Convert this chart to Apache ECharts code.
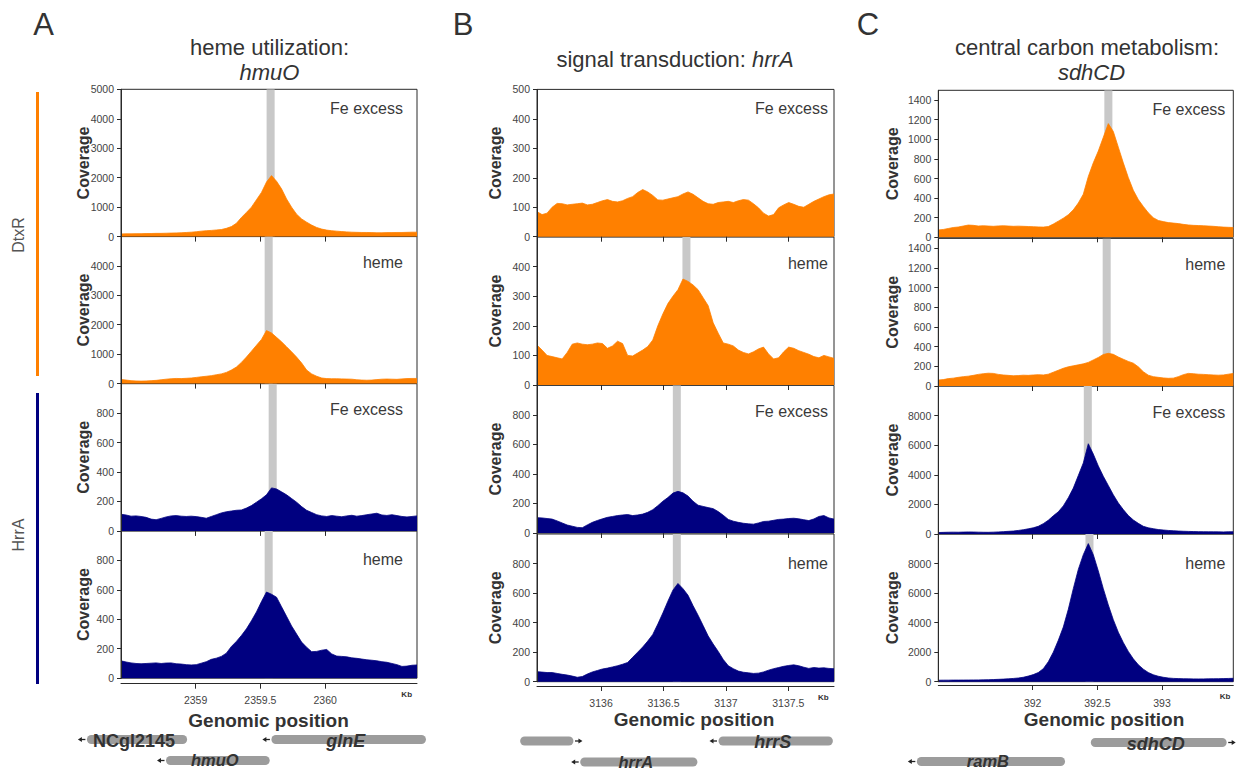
<!DOCTYPE html>
<html>
<head>
<meta charset="utf-8">
<title>DtxR / HrrA ChIP-seq coverage</title>
<script src="https://cdn.jsdelivr.net/npm/echarts@6/dist/echarts.min.js"></script>
<style>
html,body{margin:0;padding:0;background:#fff;}
#main{width:1238px;height:771px;}
</style>
</head>
<body>
<div id="main"></div>
<script>
// ---------- data ----------
// genomic window (kb) shown in each panel, and tick labels of the bottom axis
var rangeA = [2358.425, 2360.708];
var rangeB = [3135.487, 3137.866];
var rangeC = [391.27, 393.551];
var ticksA = [2359, 2359.5, 2360];
var ticksB = [3136, 3136.5, 3137, 3137.5];
var ticksC = [392, 392.5, 393];

// coverage profiles, 60 samples evenly spread over the window
var dtxrFeA = [90,95,95,100,100,105,105,110,110,115, 120,125,130,140,150,165,185,200,210,225,
  240,280,340,450,650,820,1000,1250,1500,1850, 2070,1880,1620,1280,1000,760,600,490,390,310,
  255,220,200,185,170,160,150,145,140,140, 135,130,130,135,135,140,140,145,150,150];
var dtxrHemeA = [140,120,100,90,85,90,100,110,130,150, 165,175,170,180,190,210,230,250,270,300,
  330,380,460,560,720,900,1100,1300,1500,1800, 1720,1570,1420,1250,1080,900,700,460,330,250,
  190,170,165,165,160,155,150,130,120,115, 120,135,150,155,150,145,160,170,175,175];
var hrraFeA = [113,108,100,102,98,92,80,76,85,95, 102,104,100,98,100,97,92,86,98,110,
  122,130,135,140,142,155,172,195,218,245, 292,285,265,245,220,195,165,140,125,110,
  102,98,104,100,96,102,106,100,104,110, 115,120,108,105,110,104,98,95,98,102];
var hrraHemeA = [118,110,104,100,98,100,102,104,100,103, 104,98,96,92,90,92,102,112,128,136,
  148,170,215,250,290,335,390,450,520,585, 570,550,485,420,355,300,245,210,180,182,
  190,195,165,150,148,145,138,135,130,125, 122,118,112,108,100,92,80,82,88,90];

var dtxrFeB = [85,75,80,100,113,112,108,110,112,114, 108,110,116,122,126,120,118,122,130,136,
  150,160,152,140,125,124,128,132,136,145, 152,144,132,120,112,110,116,118,120,116,
  122,126,124,112,98,80,70,75,98,108, 116,110,103,100,110,120,128,136,142,145];
var dtxrHemeB = [135,118,100,96,92,88,110,138,142,138, 136,138,142,140,124,132,148,140,100,98,
  108,118,130,152,200,240,275,300,322,358, 350,338,322,295,268,210,175,142,138,132,
  118,110,105,112,122,128,105,88,92,112, 128,124,116,110,104,96,92,100,95,90];
var hrraFeB = [104,102,98,94,82,68,54,46,38,36, 55,72,85,96,106,112,118,122,125,118,
  122,128,140,158,185,215,240,270,282,272, 250,215,188,180,172,165,145,120,92,80,
  72,66,62,60,68,78,80,86,92,94, 98,100,96,90,84,95,112,118,102,94];
var hrraHemeB = [68,65,62,62,56,50,45,38,30,35, 52,66,76,86,92,100,108,118,130,165,
  200,235,275,320,390,465,545,620,665,630, 585,515,450,380,310,255,205,150,108,88,
  72,64,60,56,58,66,78,88,96,104, 110,114,108,98,90,96,92,94,90,88];

var dtxrFeC = [75,80,90,100,105,115,125,122,115,118, 115,112,116,118,115,112,114,112,110,108,
  106,104,110,135,165,195,230,280,350,440, 620,760,880,1020,1160,1080,920,760,610,480,
  385,315,250,200,172,160,150,145,140,132, 126,122,120,118,115,112,108,104,102,100];
var dtxrHemeC = [60,65,75,80,88,95,100,108,118,125, 130,128,118,112,108,104,106,110,108,112,
  115,112,120,140,160,180,195,205,215,225, 240,265,290,320,332,322,295,272,250,232,
  195,145,110,95,88,82,78,80,95,115, 128,125,120,118,115,112,110,112,120,128];
var hrraFeC = [100,110,120,125,120,130,140,135,125,118, 115,125,140,160,180,200,240,290,350,420,
  520,700,930,1230,1500,1900,2450,3100,3950,4800, 6100,5400,4600,3900,3280,2650,2100,1650,1250,950,
  720,520,420,360,300,270,240,220,200,185, 175,165,160,155,150,148,145,140,150,155];
var hrraHemeC = [100,105,105,110,110,112,115,118,120,125, 135,145,160,175,195,220,250,300,380,480,
  620,880,1350,2000,2800,3700,4900,6300,7600,8600, 9350,8600,7500,6300,5200,4200,3350,2650,2050,1550,
  1150,850,620,470,370,300,250,225,210,200, 195,190,188,190,195,200,205,210,220,230];

// y-axis maxima and tick steps per row (DtxR Fe, DtxR heme, HrrA Fe, HrrA heme)
var yMaxA = [5000, 5000, 1000, 1000], yStepA = [1000, 1000, 200, 200];
var yMaxB = [500, 500, 1000, 1000],   yStepB = [100, 100, 200, 200];
var yMaxC = [1500, 1500, 10000, 10000], yStepC = [200, 200, 2000, 2000];

// centre (kb) of the highlighted binding site in each row
var siteA = [2359.579, 2359.564, 2359.595, 2359.564];
var siteB = [null, 3136.684, 3136.607, 3136.607];
var siteC = [392.585, 392.572, 392.426, 392.439];

// genes: name, start kb, end kb, strand, lane, italic
var genesA = [['NCgl2145', 2358.162, 2358.935, -1, 0, false],
              ['glnE', 2359.585, 2360.777, -1, 0, true],
              ['hmuO', 2358.772, 2359.572, -1, 1, true]];
var genesB = [['', 3135.352, 3135.779, 1, 0, true],
              ['hrrS', 3136.941, 3137.857, -1, 0, true],
              ['hrrA', 3135.833, 3136.772, -1, 1, true]];
var genesC = [['sdhCD', 392.449, 393.5, 1, 0, true],
              ['ramB', 391.104, 392.25, -1, 1, true]];

var conditions = ['Fe excess', 'heme', 'Fe excess', 'heme'];

// ---------- layout ----------
var font = '"Liberation Sans", Arial, Helvetica, sans-serif';
var orange = '#ff8000', navy = '#000080', ink = '#333';
var rowColors = [orange, orange, navy, navy];

var panels = [
  {range: rangeA, ticks: ticksA, rows: [dtxrFeA, dtxrHemeA, hrraFeA, hrraHemeA], yMax: yMaxA, yStep: yStepA,
   site: siteA, genes: genesA, showTop: true, siteW: 0.062,
   left: 121, width: 296, tops: [89.3, 236.3, 383.6, 530.9], heights: [147.3, 147.3, 147.3, 147.3],
   axisOffset: 5.5, labelMargin: 10.5, condInset: 14, covX: 83,
   kb: [406.7, 694], gp: [268.5, 720], lanes: [739.5, 760.5]},
  {range: rangeB, ticks: ticksB, rows: [dtxrFeB, dtxrHemeB, hrraFeB, hrraHemeB], yMax: yMaxB, yStep: yStepB,
   site: siteB, genes: genesB, showTop: true, siteW: 0.064,
   left: 537, width: 297, tops: [89.4, 237, 385.3, 534], heights: [147.3, 148, 147.7, 147.7],
   axisOffset: 4.3, labelMargin: 11, condInset: 6, covX: 495.5,
   kb: [823.3, 697.3], gp: [694, 719.5], lanes: [741, 762]},
  {range: rangeC, ticks: ticksC, rows: [dtxrFeC, dtxrHemeC, hrraFeC, hrraHemeC], yMax: yMaxC, yStep: yStepC,
   site: siteC, genes: genesC, showTop: false, siteW: 0.062,
   left: 938.3, width: 295, tops: [90.3, 238.4, 386, 534], heights: [147, 147.6, 148, 147.7],
   axisOffset: 3.3, labelMargin: 12, condInset: 8, covX: 892,
   kb: [1225, 696.7], gp: [1104, 719.5], lanes: [742.5, 761.5]}
];
var condDy = [19.5, 26, 26, 29];

function num(v) { return String(v); }

var grids = [], xAxes = [], yAxes = [], series = [];
panels.forEach(function (p, pi) {
  p.rows.forEach(function (vals, r) {
    var k = pi * 4 + r;
    var last = r === 3;
    grids.push({left: p.left, top: p.tops[r], width: p.width, height: p.heights[r],
      show: true, borderColor: '#2a2a2a', borderWidth: 1, containLabel: false, outerBoundsMode: 'none'});
    xAxes.push({type: 'value', gridIndex: k, min: p.range[0], max: p.range[1],
      offset: last ? p.axisOffset : 0, z: 20,
      axisLine: {show: last, onZero: false, lineStyle: {color: '#2a2a2a', width: 1}},
      axisTick: {show: true, customValues: p.ticks, length: 5, lineStyle: {color: '#2a2a2a'}},
      axisLabel: {show: last, customValues: p.ticks, formatter: num, margin: p.labelMargin,
        fontSize: 10.5, color: '#444', fontFamily: font},
      splitLine: {show: false}});
    yAxes.push({type: 'value', gridIndex: k, min: 0, max: p.yMax[r], interval: p.yStep[r], z: 20,
      axisLine: {show: true, lineStyle: {color: '#2a2a2a', width: 1}},
      axisTick: {show: true, length: 4, lineStyle: {color: '#2a2a2a'}},
      axisLabel: {formatter: num, margin: 7, fontSize: 10.5, color: '#444', fontFamily: font,
        showMinLabel: true, showMaxLabel: r === 0 && p.showTop},
      splitLine: {show: false}});
    // binding-site strip: a full-height filled band, drawn beneath the coverage fill
    if (p.site[r] !== null) {
      series.push({type: 'line', xAxisIndex: k, yAxisIndex: k, z: 1, silent: true, animation: false,
        symbol: 'none', showSymbol: false,
        data: [[p.site[r] - p.siteW / 2, p.yMax[r]], [p.site[r] + p.siteW / 2, p.yMax[r]]],
        lineStyle: {width: 0}, itemStyle: {color: '#c8c8c8'},
        areaStyle: {color: '#c8c8c8', opacity: 1}});
    }
  });
});
// coverage fills go after every strip so they paint on top
panels.forEach(function (p, pi) {
  p.rows.forEach(function (vals, r) {
    var k = pi * 4 + r;
    var step = (p.range[1] - p.range[0]) / (vals.length - 1);
    var pts = vals.map(function (v, i) { return [p.range[0] + i * step, v]; });
    series.push({type: 'line', xAxisIndex: k, yAxisIndex: k, data: pts, symbol: 'none', showSymbol: false,
      silent: true, animation: false, sampling: null, z: 5,
      lineStyle: {width: 0.8, color: rowColors[r]}, itemStyle: {color: rowColors[r]},
      areaStyle: {color: rowColors[r], opacity: 1}});
  });
});

var chart = echarts.init(document.getElementById('main'), null, {renderer: 'svg'});
chart.setOption({animation: false, grid: grids, xAxis: xAxes, yAxis: yAxes, series: series});

// ---------- annotations ----------
function txt(x, y, text, st, rot) {
  return {type: 'text', x: x, y: y, rotation: rot || 0, silent: true, z: 50,
    style: Object.assign({text: text, fill: ink, fontFamily: font, fontSize: 16,
      align: 'center', verticalAlign: 'middle', textAlign: 'center', textVerticalAlign: 'middle'}, st || {})};
}

var g = [];
g.push(txt(43.5, 24, 'A', {fontSize: 31}));
g.push(txt(463, 24, 'B', {fontSize: 31}));
g.push(txt(868, 24, 'C', {fontSize: 31}));

g.push(txt(269.5, 47, 'heme utilization:', {fontSize: 22}));
g.push(txt(269.5, 72.5, 'hmuO', {fontSize: 22, fontStyle: 'italic'}));
g.push(txt(675, 59.5, 'signal transduction: {i|hrrA}', {fontSize: 22,
  rich: {i: {fontStyle: 'italic', fontSize: 22, fontFamily: font, fill: ink}}}));
g.push(txt(1087, 47, 'central carbon metabolism:', {fontSize: 22}));
g.push(txt(1091.5, 72.5, 'sdhCD', {fontSize: 22, fontStyle: 'italic'}));

// regulator bars on the left
g.push({type: 'rect', silent: true, shape: {x: 36, y: 92, width: 3, height: 284}, style: {fill: orange}});
g.push({type: 'rect', silent: true, shape: {x: 36, y: 393, width: 3, height: 291}, style: {fill: navy}});
g.push(txt(18, 235, 'DtxR', {fill: '#555', fontSize: 16}, Math.PI / 2));
g.push(txt(18, 535, 'HrrA', {fill: '#555', fontSize: 16}, Math.PI / 2));

panels.forEach(function (p, pi) {
  p.tops.forEach(function (t, r) {
    g.push(txt(p.left + p.width - p.condInset, t + condDy[r], conditions[r],
      {fontSize: 16, align: 'right', textAlign: 'right', fill: '#3a3a3a'}));
    g.push(txt(p.covX, t + p.heights[r] / 2, 'Coverage', {fontSize: 16, fontWeight: 'bold'}, Math.PI / 2));
  });
  g.push(txt(p.gp[0], p.gp[1], 'Genomic position', {fontSize: 19, fontWeight: 'bold'}));
  g.push(txt(p.kb[0], p.kb[1], 'Kb', {fontSize: 8, fontWeight: 'bold'}));

  var axisIdx = pi * 4 + 3;
  p.genes.forEach(function (gene) {
    var x1 = chart.convertToPixel({xAxisIndex: axisIdx}, gene[1]);
    var x2 = chart.convertToPixel({xAxisIndex: axisIdx}, gene[2]);
    var y = p.lanes[gene[4]];
    g.push({type: 'rect', silent: true, z: 40, shape: {x: x1, y: y - 4.5, width: x2 - x1, height: 9, r: 4.5},
      style: {fill: '#9c9c9c'}});
    var base = gene[3] < 0 ? x1 - 1.5 : x2 + 1.5;
    var tip = gene[3] < 0 ? x1 - 9 : x2 + 9;
    var d = gene[3] < 0 ? 1 : -1;
    g.push({type: 'line', silent: true, z: 40, shape: {x1: base, y1: y, x2: tip + d * 3, y2: y},
      style: {stroke: '#222', lineWidth: 1.3}});
    g.push({type: 'polygon', silent: true, z: 40,
      shape: {points: [[tip, y], [tip + d * 4, y - 2.6], [tip + d * 4, y + 2.6]]}, style: {fill: '#222'}});
    if (gene[0]) {
      var lower = gene[4] === 1;
      g.push(txt((x1 + x2) / 2 - 3, lower ? y - 0.5 : y + 1, gene[0],
        {fontSize: lower ? 16.5 : 18, lineHeight: lower ? 16 : 18, fontWeight: 'bold',
         fontStyle: gene[5] ? 'italic' : 'normal', fill: ink}));
    }
  });
});

chart.setOption({graphic: {elements: g}});
</script>
</body>
</html>
